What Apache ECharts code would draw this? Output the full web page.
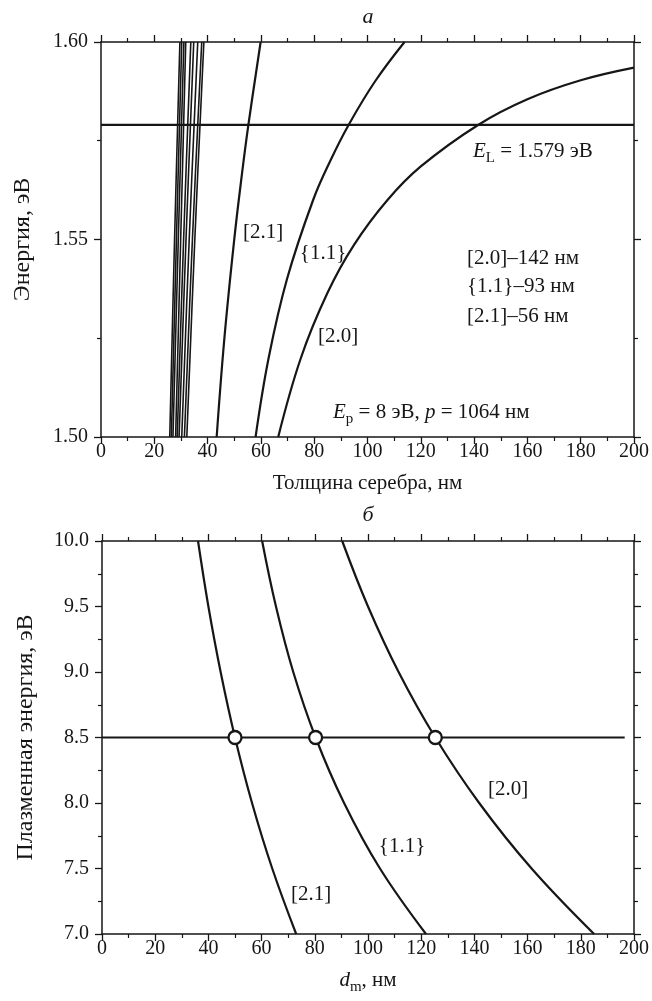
<!DOCTYPE html>
<html><head><meta charset="utf-8">
<script src="https://cdn.jsdelivr.net/npm/echarts@6/dist/echarts.min.js"></script>
<style>html,body{margin:0;padding:0;background:#fff}#c{width:652px;height:1001px}</style>
</head><body><div id="c"></div>
<script>
const FONT = '"Liberation Serif","Times New Roman",serif';
const INK = '#161616';

// ---------- Panel а : energy vs silver thickness ----------
const aXMin = 0, aXMax = 200, aXStep = 20;
const aYMin = 1.50, aYMax = 1.60, aYStep = 0.05;
// bundle of near-vertical lines (x nm, E eV)
const aBundle = [
  [[25.8,1.50],[27.6,1.55],[29.6,1.60]],
  [[26.4,1.50],[28.3,1.55],[30.3,1.60]],
  [[27.0,1.50],[29.0,1.55],[31.1,1.60]],
  [[28.0,1.50],[29.9,1.55],[31.8,1.60]],
  [[28.6,1.50],[31.0,1.55],[33.7,1.60]],
  [[29.3,1.50],[31.9,1.55],[34.8,1.60]],
  [[30.3,1.50],[33.1,1.55],[36.3,1.60]],
  [[31.3,1.50],[34.3,1.55],[37.8,1.60]],
  [[32.2,1.50],[35.2,1.55],[38.6,1.60]]
];
const aMode21 = [[43.4,1.50],[46.3,1.525],[50.0,1.55],[52.6,1.565],[55.3,1.579],[59.9,1.60]];
const aMode11 = [[58.0,1.50],[62.9,1.52],[69.8,1.54],[79.6,1.56],[86.1,1.57],[92.9,1.579],[102.8,1.59],[113.9,1.60]];
const aMode20 = [[66.5,1.500],[75.0,1.520],[85.0,1.5365],[95.0,1.5487],[107.5,1.560],[120.0,1.5685],
                 [141.5,1.579],[160.0,1.5855],[180.0,1.5903],[200.0,1.5935]];
const aLaserE = 1.579;

// ---------- Panel б : plasma energy vs d_m ----------
const bXMin = 0, bXMax = 200, bXStep = 20;
const bYMin = 7.0, bYMax = 10.0, bYStep = 0.5;
const bMode21 = [[36.1,10.0],[40.0,9.5],[44.6,9.0],[50.0,8.5],[56.4,8.0],[64.0,7.5],[73.0,7.0]];
const bMode11 = [[60.2,10.0],[65.4,9.5],[71.9,9.0],[80.3,8.5],[91.0,8.0],[104.5,7.5],[121.8,7.0]];
const bMode20 = [[90.3,10.0],[100.0,9.5],[111.5,9.0],[125.3,8.5],[141.8,8.0],[161.5,7.5],[185.0,7.0]];
const bPlasmaE = 8.5;
const bLineX = [0, 196.5];
const bCrossX = [50.0, 80.3, 125.3];

const chart = echarts.init(document.getElementById('c'), null, {renderer:'canvas'});

function xAx(grid, pos, min, max, step, extra) {
  return Object.assign({
    type:'value', gridIndex:grid, position:pos, min:min, max:max, interval:step,
    axisLine:{show:true, onZero:false, lineStyle:{color:INK, width:1.5}},
    axisTick:{show:true, inside:false, length:7, lineStyle:{color:INK, width:1.3}},
    minorTick:{show:true, splitNumber:2, length:4, lineStyle:{color:INK, width:1.2}},
    splitLine:{show:false}, minorSplitLine:{show:false},
    axisLabel:{show: pos==='bottom', color:INK, fontFamily:FONT, fontSize:20, margin:5},
  }, extra||{});
}
function yAx(grid, pos, min, max, step, dec, extra) {
  return Object.assign({
    type:'value', gridIndex:grid, position:pos, min:min, max:max, interval:step,
    axisLine:{show:true, onZero:false, lineStyle:{color:INK, width:1.5}},
    axisTick:{show:true, inside:false, length:7, lineStyle:{color:INK, width:1.3}},
    minorTick:{show:true, splitNumber:2, length:4, lineStyle:{color:INK, width:1.2}},
    splitLine:{show:false}, minorSplitLine:{show:false},
    axisLabel:{show: pos==='left', color:INK, fontFamily:FONT, fontSize:20, margin:13,
      formatter: v => Number(v).toFixed(dec)},
  }, extra||{});
}

function curve(data, xi, yi, w) {
  return {type:'line', xAxisIndex:xi, yAxisIndex:yi, data:data, showSymbol:false, symbol:'none',
    smooth:0.4, lineStyle:{color:INK, width:w||2.2}, silent:true, z:3};
}

const series = [];
aBundle.forEach(l => series.push(curve(l, 0, 0, 1.6)));
series.push(curve(aMode21, 0, 0));
series.push(curve(aMode11, 0, 0));
series.push(curve(aMode20, 0, 0));
series.push({type:'line', xAxisIndex:0, yAxisIndex:0, data:[[aXMin,aLaserE],[aXMax,aLaserE]],
  showSymbol:false, symbol:'none', lineStyle:{color:INK, width:2.2}, silent:true});
series.push(curve(bMode21, 2, 2));
series.push(curve(bMode11, 2, 2));
series.push(curve(bMode20, 2, 2));
series.push({type:'line', xAxisIndex:2, yAxisIndex:2, data:[[bLineX[0],bPlasmaE],[bLineX[1],bPlasmaE]],
  showSymbol:false, symbol:'none', lineStyle:{color:INK, width:2.2}, silent:true, z:3});
series.push({type:'scatter', xAxisIndex:2, yAxisIndex:2, data:bCrossX.map(x=>[x,bPlasmaE]),
  symbol:'circle', symbolSize:13, itemStyle:{color:'#fff', borderColor:INK, borderWidth:2.3, opacity:1}, z:5, silent:true});

function txt(x, y, s, size, italic) {
  return {type:'text', x:x, y:y, silent:true, style:{text:s, fill:INK,
    fontFamily:FONT, fontSize:(size||21), fontStyle:(italic?'italic':'normal'), align:'left', verticalAlign:'middle'}};
}
function txtC(x, y, s, size, italic) {
  const t = txt(x,y,s,size,italic); t.style.align='center'; return t;
}
const richSub = {
  i:{fontFamily:FONT, fontSize:21, fontStyle:'italic', lineHeight:24, color:INK, fill:INK},
  n:{fontFamily:FONT, fontSize:21, lineHeight:24, color:INK, fill:INK},
  s:{fontFamily:FONT, fontSize:15, lineHeight:16, padding:[14,0,0,0], color:INK, fill:INK}
};
function sub(x, yMid, text) {
  return {type:'text', x:x, y:yMid, silent:true, style:{text:text, fill:INK, align:'left', verticalAlign:'middle',
    rich:richSub}};
}

const graphic = [
  txtC(368, 17, 'а', 22, true),
  txtC(368, 515, 'б', 22, true),
  sub(473, 151, '{i|E}{s|L}{n| = 1.579 эВ}'),
  txt(467, 258, '[2.0]–142 нм'),
  txt(467, 286, '{1.1}–93 нм'),
  txt(467, 316, '[2.1]–56 нм'),
  sub(333, 412, '{i|E}{s|p}{n| = 8 эВ, }{i|p}{n| = 1064 нм}'),
  txtC(263, 232, '[2.1]'),
  txtC(323, 253, '{1.1}'),
  txtC(338, 336, '[2.0]'),
  txtC(311, 894, '[2.1]'),
  txtC(402, 846, '{1.1}'),
  txtC(508, 789, '[2.0]')
];

chart.setOption({
  animation:false,
  backgroundColor:'#fff',
  grid:[
    {left:101, top:42, width:534, height:395},
    {left:102, top:541, width:533, height:393}
  ],
  xAxis:[
    xAx(0,'bottom',aXMin,aXMax,aXStep,{name:'Толщина серебра, нм', nameLocation:'middle', nameGap:36,
      nameTextStyle:{color:INK, fontFamily:FONT, fontSize:21}}),
    xAx(0,'top',aXMin,aXMax,aXStep),
    xAx(1,'bottom',bXMin,bXMax,bXStep,{name:'{i|d}{s|m}{n|, нм}', nameLocation:'middle', nameGap:34,
      nameTextStyle:{color:INK, fontFamily:FONT, fontSize:21, rich:richSub}}),
    xAx(1,'top',bXMin,bXMax,bXStep)
  ],
  yAxis:[
    yAx(0,'left',aYMin,aYMax,aYStep,2,{name:'Энергия, эВ', nameLocation:'middle', nameGap:66,
      nameTextStyle:{color:INK, fontFamily:FONT, fontSize:24}}),
    yAx(0,'right',aYMin,aYMax,aYStep,2),
    yAx(1,'left',bYMin,bYMax,bYStep,1,{name:'Плазменная энергия, эВ', nameLocation:'middle', nameGap:64,
      nameTextStyle:{color:INK, fontFamily:FONT, fontSize:24}}),
    yAx(1,'right',bYMin,bYMax,bYStep,1)
  ],
  series:series,
  graphic:graphic
});
</script></body></html>
